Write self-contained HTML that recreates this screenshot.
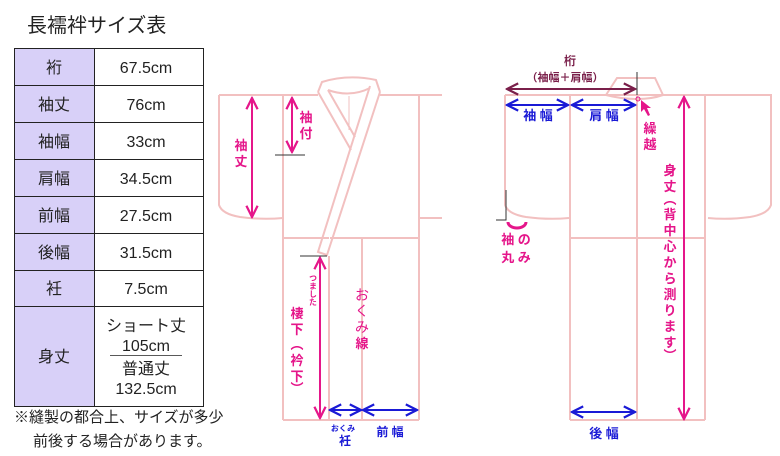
<!DOCTYPE html>
<html><head><meta charset="utf-8"><style>
html,body{margin:0;padding:0;background:#fff;width:780px;height:456px;overflow:hidden}
svg{display:block}
text{font-family:"Liberation Sans","Noto Sans CJK JP",sans-serif}
</style></head><body>
<svg width="780" height="456" viewBox="0 0 780 456" xmlns="http://www.w3.org/2000/svg">
<defs>
<marker id="am" viewBox="0 0 10 10" refX="9" refY="5" markerWidth="7" markerHeight="7" orient="auto-start-reverse"><path d="M1,1 L9,5 L1,9" fill="none" stroke="#e5168a" stroke-width="1.6"/></marker>
<marker id="ab" viewBox="0 0 10 10" refX="9" refY="5" markerWidth="7" markerHeight="7" orient="auto-start-reverse"><path d="M1,1 L9,5 L1,9" fill="none" stroke="#1a1ad6" stroke-width="1.6"/></marker>
<marker id="ad" viewBox="0 0 10 10" refX="9" refY="5" markerWidth="7" markerHeight="7" orient="auto-start-reverse"><path d="M1,1 L9,5 L1,9" fill="none" stroke="#7a1f4a" stroke-width="1.6"/></marker>
</defs>
<text x="27" y="32" font-size="20" fill="#222">長襦袢サイズ表</text>
<g stroke="#222" stroke-width="1">
<rect x="14.5" y="48.5" width="80" height="358" fill="#d8d0f8"/>
<rect x="94.5" y="48.5" width="109" height="358" fill="#fff"/>
<line x1="14" y1="85.5" x2="204" y2="85.5"/><line x1="14" y1="122.5" x2="204" y2="122.5"/>
<line x1="14" y1="159.5" x2="204" y2="159.5"/><line x1="14" y1="196.5" x2="204" y2="196.5"/>
<line x1="14" y1="233.5" x2="204" y2="233.5"/><line x1="14" y1="270.5" x2="204" y2="270.5"/>
<line x1="14" y1="306.5" x2="204" y2="306.5"/>
<line x1="110" y1="355.5" x2="182" y2="355.5" stroke-width="0.8"/>
</g>
<g font-size="16" fill="#222" text-anchor="middle">
<text x="54" y="73">裄</text><text x="146" y="73">67.5cm</text>
<text x="54" y="110">袖丈</text><text x="146" y="110">76cm</text>
<text x="54" y="147">袖幅</text><text x="146" y="147">33cm</text>
<text x="54" y="184">肩幅</text><text x="146" y="184">34.5cm</text>
<text x="54" y="221">前幅</text><text x="146" y="221">27.5cm</text>
<text x="54" y="258">後幅</text><text x="146" y="258">31.5cm</text>
<text x="54" y="294">衽</text><text x="146" y="294">7.5cm</text>
<text x="54" y="362">身丈</text>
<text x="146" y="331">ショート丈</text><text x="146" y="351">105cm</text>
<text x="146" y="374">普通丈</text><text x="146" y="394">132.5cm</text>
</g>
<text x="14" y="422" font-size="15" fill="#222">※縫製の都合上、サイズが多少</text>
<text x="33" y="446" font-size="15" fill="#222">前後する場合があります。</text>

<!-- left kimono -->
<g fill="none" stroke="#f2c0c0" stroke-width="2">
<path d="M219,95 L318,95 M380,95 L419,95"/>
<path d="M219,95 L219,205 Q222,214 240,217 Q262,220 283,218"/>
<line x1="283" y1="95" x2="283" y2="420"/>
<line x1="419" y1="95" x2="419" y2="420"/>
<line x1="283" y1="420" x2="419" y2="420"/>
<line x1="283" y1="238" x2="329" y2="238"/>
<line x1="330" y1="238" x2="419" y2="238"/>
<line x1="362" y1="238" x2="362" y2="420"/>
<line x1="329" y1="256" x2="329" y2="420"/>
<path d="M419,95 L442,95 M419,218 L442,218"/>
<!-- collar -->
<path d="M318,92 L322,82 Q348,74 376,80 L380,92"/>
<path d="M328,90 Q350,98 370,88"/>
<path d="M318,92 L351,150"/>
<path d="M328,90 L355,137"/>
<path d="M370,86 L318,252 L327,255 L380,92"/>
<line x1="349" y1="96" x2="349" y2="130" stroke-width="1"/>
</g>
<g stroke="#e5168a" stroke-width="2" fill="none">
<line x1="252" y1="98" x2="252" y2="217" marker-start="url(#am)" marker-end="url(#am)"/>
<line x1="292" y1="98" x2="292" y2="152" marker-start="url(#am)" marker-end="url(#am)"/>
<line x1="320" y1="258" x2="320" y2="418" marker-start="url(#am)" marker-end="url(#am)"/>
</g>
<g stroke="#333" stroke-width="1">
<line x1="275" y1="155" x2="305" y2="155"/>
<line x1="300" y1="256" x2="327" y2="256"/>
</g>
<g stroke="#1a1ad6" stroke-width="2">
<line x1="330" y1="410" x2="361" y2="410" marker-start="url(#ab)" marker-end="url(#ab)"/>
<line x1="363" y1="410" x2="417" y2="410" marker-start="url(#ab)" marker-end="url(#ab)"/>
</g>
<g fill="#e5168a" font-size="13" font-weight="bold" text-anchor="middle">
<text x="241" y="150">袖</text><text x="241" y="166">丈</text>
<text x="306" y="122">袖</text><text x="306" y="138">付</text>
<text x="297" y="318">棲</text><text x="297" y="334">下</text><text x="297" y="349">︵</text><text x="297" y="365">衿</text><text x="297" y="381">下</text><text x="297" y="393">︶</text>
<text x="313" y="290" font-size="8" writing-mode="tb">つました</text>
<text x="362" y="300" font-weight="normal" font-size="14">お</text><text x="362" y="316" font-weight="normal" font-size="14">く</text><text x="362" y="332" font-weight="normal" font-size="14">み</text><text x="362" y="348">線</text>
</g>
<g fill="#1a1ad6" font-weight="bold" text-anchor="middle">
<text x="343" y="431" font-size="8">おくみ</text>
<text x="345" y="445" font-size="12">衽</text>
<text x="390" y="436" font-size="12">前 幅</text>
</g>

<!-- right kimono -->
<g fill="none" stroke="#f2c0c0" stroke-width="2">
<path d="M606,95 L617,78 L655,78 L663,95"/>
<path d="M606,95 Q621,99 637,99 Q652,99 663,95"/>
<line x1="505" y1="95" x2="772" y2="95"/>
<path d="M505,95 L505,205 Q508,214 526,217 Q548,220 569,218"/>
<line x1="570" y1="95" x2="570" y2="420"/>
<line x1="705" y1="95" x2="705" y2="420"/>
<line x1="570" y1="420" x2="705" y2="420"/>
<line x1="637" y1="95" x2="637" y2="420"/>
<line x1="570" y1="238" x2="705" y2="238"/>
<path d="M771,95 L771,205 Q768,214 750,217 Q728,220 708,218"/>
</g>
<line x1="637" y1="72" x2="637" y2="95" stroke="#333" stroke-width="1"/>
<path d="M506,190 L506,220 L496,220" fill="none" stroke="#333" stroke-width="1"/>
<path d="M508,222 A9,6 0 0 0 526,222" fill="none" stroke="#e5168a" stroke-width="3"/>
<line x1="507" y1="89" x2="635" y2="89" stroke="#7a1f4a" stroke-width="2" marker-start="url(#ad)" marker-end="url(#ad)"/>
<g stroke="#1a1ad6" stroke-width="2">
<line x1="507" y1="105" x2="568" y2="105" marker-start="url(#ab)" marker-end="url(#ab)"/>
<line x1="572" y1="105" x2="635" y2="105" marker-start="url(#ab)" marker-end="url(#ab)"/>
<line x1="572" y1="412" x2="635" y2="412" marker-start="url(#ab)" marker-end="url(#ab)"/>
</g>
<line x1="684" y1="97" x2="684" y2="419" stroke="#e5168a" stroke-width="2" marker-start="url(#am)" marker-end="url(#am)"/>
<path d="M641,100 L641,112 L644,109 L648,116 L650,115 L647,108 L651,108 Z" fill="#e5168a"/>
<circle cx="638" cy="99" r="2" fill="none" stroke="#e5168a" stroke-width="1"/>
<g fill="#7a1f4a" font-weight="bold" text-anchor="middle">
<text x="570" y="65" font-size="12">桁</text>
<text x="565" y="81" font-size="11">（袖幅＋肩幅）</text>
</g>
<g fill="#1a1ad6" font-weight="bold" font-size="13" text-anchor="middle">
<text x="538" y="120">袖 幅</text>
<text x="604" y="120">肩 幅</text>
<text x="604" y="438">後 幅</text>
</g>
<g fill="#e5168a" font-weight="bold" font-size="13" text-anchor="middle">
<text x="650" y="133">繰</text><text x="650" y="149">越</text>
<text x="516" y="244">袖 の</text><text x="516" y="262">丸 み</text>
<text x="670" y="175">身</text><text x="670" y="191">丈</text><text x="670" y="204">︵</text>
<text x="670" y="219">背</text><text x="670" y="235">中</text><text x="670" y="251">心</text>
<text x="670" y="267">か</text><text x="670" y="283">ら</text><text x="670" y="299">測</text>
<text x="670" y="315">り</text><text x="670" y="331">ま</text><text x="670" y="347">す</text><text x="670" y="360">︶</text>
</g>
</svg>
</body></html>
